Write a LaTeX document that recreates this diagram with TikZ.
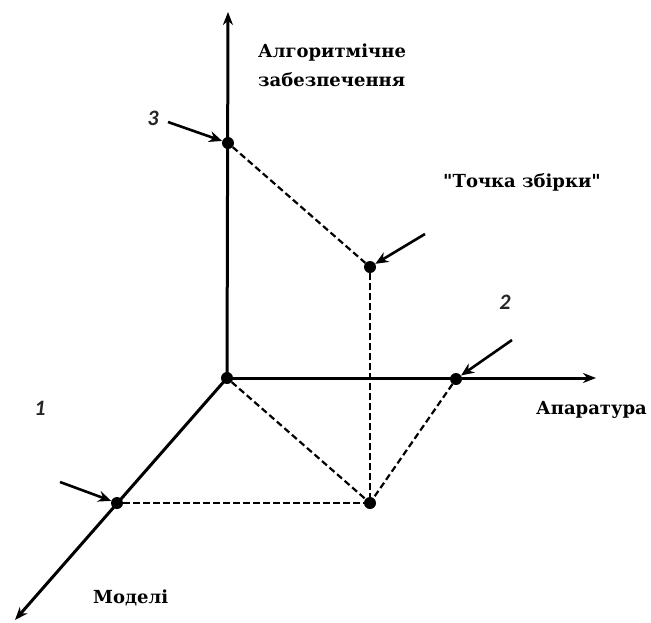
\documentclass[tikz,border=0pt]{standalone}
\usepackage{fontspec}
\setmainfont{DejaVu Serif}[Ligatures=TeXOff]
\newfontfamily\numfont{Carlito}
\usetikzlibrary{arrows.meta}
\begin{document}
\begin{tikzpicture}[x=1pt,y=-1pt,
  axis/.style={line width=3pt,-{Stealth[length=13pt,width=10pt]}},
  guide/.style={line width=2.2pt,dash pattern=on 6.5pt off 3.5pt},
  pointer/.style={line width=2.6pt,-{Stealth[length=13pt,width=11pt]}},
  dot/.style={circle,fill=black,inner sep=0pt,minimum size=12pt},
  lbl/.style={font=\bfseries\fontsize{18}{27}\selectfont,inner sep=0pt},
  num/.style={font=\numfont\bfseries\itshape\fontsize{22}{24}\selectfont,inner sep=0pt,text=black!85}]
\useasboundingbox (0,0) rectangle (651,622);
% axes
\coordinate (O) at (227,378);
\coordinate (ztip) at (228,12);
\coordinate (xtip) at (596,378);
\coordinate (ytip) at (15,620);
\draw[axis] (O) -- (ztip);
\draw[axis] (O) -- (xtip);
\draw[axis] (O) -- (ytip);
% points
\node[dot] (p3) at (228,143) {};
\node[dot] (pP) at (370,267) {};
\node[dot] (p2) at (456,379) {};
\node[dot] (p1) at (117,503) {};
\node[dot] (pB) at (370,503) {};
\node[dot] (pO) at (227,378) {};
% dashed guides
\draw[guide] (p3) -- (pP);
\draw[guide] (pP) -- (pB);
\draw[guide] (pO) -- (pB);
\draw[guide] (p2) -- (pB);
\draw[guide] (p1) -- (pB);
% pointers
\coordinate (s3) at (168,122);
\coordinate (sP) at (425,234);
\coordinate (s2) at (512,340);
\coordinate (s1) at (60,482);
\draw[pointer] (s3) -- (p3);
\draw[pointer] (sP) -- (pP);
\draw[pointer] (s2) -- (p2);
\draw[pointer] (s1) -- (p1);
% labels
\node[lbl,anchor=west] (lz) at (258,53) {Алгоритмічне};
\node[lbl,anchor=west] (lz2) at (258,80) {забезпечення};
\node[lbl] (lP) at (522,182) {"Точка збірки"};
\node[lbl,anchor=west] (lx) at (536,410) {Апаратура};
\node[lbl,anchor=west] (ly) at (93,598) {Моделі};
\node[num] (n3) at (153,118) {3};
\node[num] (n2) at (505,302) {2};
\node[num] (n1) at (40,408) {1};
\end{tikzpicture}
\end{document}
